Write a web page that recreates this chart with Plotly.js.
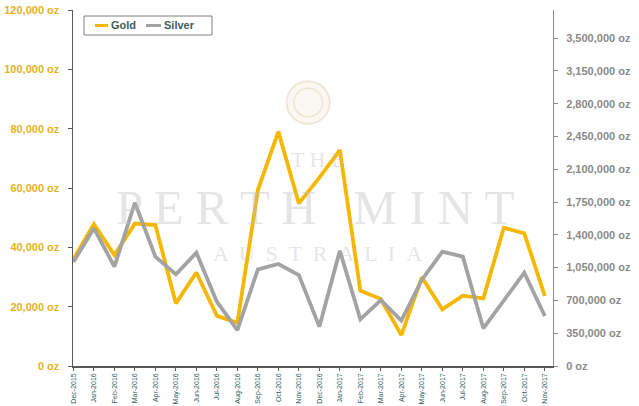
<!DOCTYPE html>
<html>
<head>
<meta charset="utf-8">
<script src="https://cdn.plot.ly/plotly-3.0.1.min.js"></script>
<style>html,body{margin:0;padding:0;background:#fff;}#chart{width:639px;height:406px;}</style>
</head>
<body>
<div id="chart"></div>
<script>
const months = ["Dec-2015","Jan-2016","Feb-2016","Mar-2016","Apr-2016","May-2016","Jun-2016","Jul-2016","Aug-2016","Sep-2016","Oct-2016","Nov-2016","Dec-2016","Jan-2017","Feb-2017","Mar-2017","Apr-2017","May-2017","Jun-2017","Jul-2017","Aug-2017","Sep-2017","Oct-2017","Nov-2017"];
const gold = [36000,47800,37400,48000,47500,21100,31500,16900,14600,59300,79000,54800,63500,72800,25400,22600,10400,29900,19100,23700,22800,46600,44700,23600];
const silver = [1110000,1470000,1060000,1743000,1167000,978000,1209000,686000,384000,1032000,1089000,971000,420000,1231000,498000,704000,484000,918000,1220000,1167000,402000,704000,996000,534000];
const leftTicks = [0,20000,40000,60000,80000,100000,120000];
const rightTicks = [0,350000,700000,1050000,1400000,1750000,2100000,2450000,2800000,3150000,3500000];
const seriesNames = ["Gold","Silver"];
const fmt = v => v.toLocaleString('en-US') + ' oz';

const GOLD = '#F5B700', SILVER = '#A3A3A3';
const FONT = 'Liberation Sans, Arial, sans-serif';

const traces = [
  {x: months, y: gold, name: seriesNames[0], type: 'scatter', mode: 'lines', yaxis: 'y',
   line: {color: GOLD, width: 3.8}},
  {x: months, y: silver, name: seriesNames[1], type: 'scatter', mode: 'lines', yaxis: 'y2',
   line: {color: SILVER, width: 3.8}}
];

const wm = 'rgba(190,190,190,0.4)';
const SERIF = 'Liberation Serif, serif';

const layout = {
  width: 639, height: 406,
  margin: {l: 73, r: 86, t: 10, b: 40},
  paper_bgcolor: '#ffffff', plot_bgcolor: 'rgba(0,0,0,0)',
  showlegend: false,
  xaxis: {type: 'category', range: [-0.02, 23.4], showgrid: false, zeroline: false,
    showline: true, linecolor: '#595959', linewidth: 1.5,
    ticks: 'outside', ticklen: 3, tickcolor: '#595959',
    tickangle: -90, tickfont: {family: FONT, size: 7, color: '#2f5b5b'}},
  yaxis: {range: [0, 120000], tickvals: leftTicks, ticktext: leftTicks.map(fmt),
    showgrid: false, zeroline: false, showline: true, linecolor: '#595959', linewidth: 1.5,
    ticks: 'outside', ticklen: 4, tickcolor: '#595959', ticklabelstandoff: 6,
    tickfont: {family: FONT, size: 11, color: '#E6B31E', weight: 'bold'}},
  yaxis2: {range: [0, 3800000], overlaying: 'y', side: 'right', tickvals: rightTicks, ticktext: rightTicks.map(fmt),
    showgrid: false, zeroline: false, showline: true, linecolor: '#8c8c8c', linewidth: 1,
    ticks: 'outside', ticklen: 4, tickcolor: '#8c8c8c', ticklabelstandoff: 6,
    tickfont: {family: FONT, size: 11, color: '#8a8a8a', weight: 'bold'}},
  annotations: [
    {xref: 'paper', yref: 'paper', x: 0.51, y: 0.58, yanchor: 'middle', text: 'T H E', showarrow: false,
     font: {family: SERIF, size: 22, color: wm}},
    {xref: 'paper', yref: 'paper', x: 0.505, y: 0.445, yanchor: 'middle', text: 'P E R T H &nbsp;&nbsp;M I N T', showarrow: false,
     font: {family: SERIF, size: 49, color: wm}},
    {xref: 'paper', yref: 'paper', x: 0.51, y: 0.315, yanchor: 'middle', text: 'A &nbsp;U &nbsp;S &nbsp;T &nbsp;R &nbsp;A &nbsp;L &nbsp;I &nbsp;A', showarrow: false,
     font: {family: SERIF, size: 22, color: wm}},
    {xref: 'paper', yref: 'paper', x: 0.0758, y: 0.9565, xanchor: 'left', yanchor: 'middle', text: seriesNames[0], showarrow: false,
     font: {family: FONT, size: 11, color: '#3f5c5c', weight: 'bold'}},
    {xref: 'paper', yref: 'paper', x: 0.1855, y: 0.9565, xanchor: 'left', yanchor: 'middle', text: seriesNames[1], showarrow: false,
     font: {family: FONT, size: 11, color: '#3f5c5c', weight: 'bold'}}
  ],
  shapes: [
    {type: 'circle', xref: 'paper', yref: 'paper', x0: 0.445, x1: 0.535, y0: 0.68, y1: 0.8,
     line: {color: 'rgba(215,200,170,0.4)', width: 2}, fillcolor: 'rgba(235,225,205,0.22)', layer: 'below'},
    {type: 'circle', xref: 'paper', yref: 'paper', x0: 0.46, x1: 0.52, y0: 0.70, y1: 0.78,
     line: {color: 'rgba(215,200,170,0.4)', width: 1.5}, layer: 'below'},
    {type: 'rect', xref: 'paper', yref: 'paper', x0: 0.0229, x1: 0.2896, y0: 0.9298, y1: 0.9831,
     line: {color: '#7f7f7f', width: 1}, fillcolor: '#ffffff'},
    {type: 'line', xref: 'paper', yref: 'paper', x0: 0.0458, x1: 0.0729, y0: 0.9565, y1: 0.9565,
     line: {color: GOLD, width: 3}},
    {type: 'line', xref: 'paper', yref: 'paper', x0: 0.1521, x1: 0.1833, y0: 0.9565, y1: 0.9565,
     line: {color: SILVER, width: 3}}
  ]
};

Plotly.newPlot('chart', traces, layout, {displayModeBar: false, staticPlot: true});
</script>
</body>
</html>
